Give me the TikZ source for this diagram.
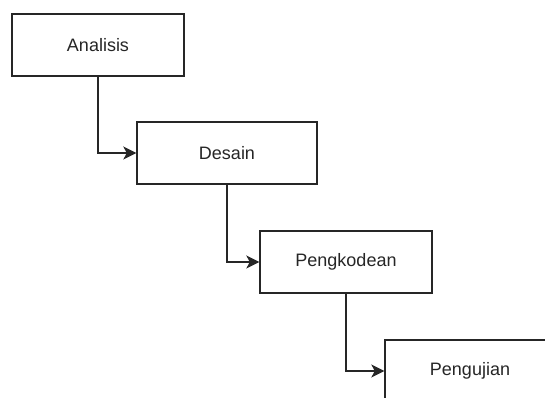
\documentclass[tikz,border=0pt]{standalone}
\usepackage{fontspec}
\setmainfont{Liberation Sans}
\usetikzlibrary{arrows.meta}

\begin{document}
\begin{tikzpicture}[
      x=1pt,y=-1pt,
      phase/.style={draw=black!85,line width=1.4pt,minimum height=62pt,
        inner sep=0pt,text=black!85,font=\fontsize{18}{22}\selectfont},
      flow/.style={line width=1.4pt,draw=black!85,
        -{Stealth[length=13pt,width=13pt,inset=3.5pt]}}
      ]
      \clip (0,0) rectangle (545,397);
      \fill[white] (0,0) rectangle (545,397);
      \node[phase,minimum width=172pt] (ana) at (98,45) {Analisis};
      \node[phase,minimum width=180pt] (des) at (227,153) {Desain};
      \node[phase,minimum width=172pt] (kod) at (346,262) {Pengkodean};
      \node[phase,minimum width=170pt] (uji) at (470,371) {Pengujian};
      \draw[flow] (ana.south) |- (des.west);
      \draw[flow] (des.south) |- (kod.west);
      \draw[flow] (kod.south) |- (uji.west);
    \end{tikzpicture}
\end{document}
